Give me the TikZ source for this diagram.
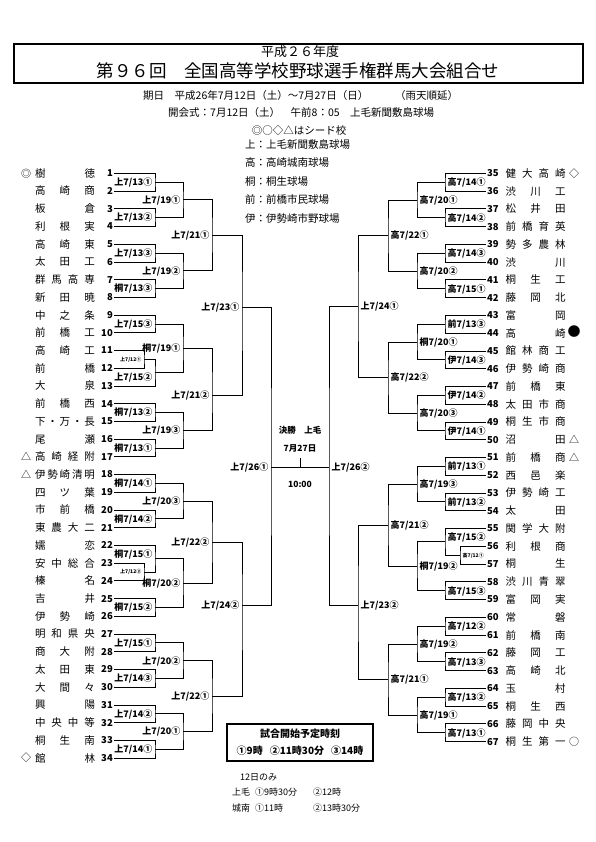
\documentclass[tikz,border=0pt]{standalone}
\usepackage{fontspec}
\setmainfont{Noto Sans CJK JP}
\usetikzlibrary{positioning}

% spread the characters of a school name over a fixed width
\def\spreadfirst#1{#1\spreadrest}
\def\spreadrest#1{\ifx\relax#1\else\hfill#1\expandafter\spreadrest\fi}
\newcommand{\teamname}[1]{\makebox[60pt][s]{\expandafter\spreadfirst#1\relax}}

% bracket: [label opts]{top}{bottom}{x}{pos}{name}{label}
\newcommand{\bL}[7][]{%
  \path (#2) -- (#3) coordinate[pos=#5] (#6m);
  \coordinate (#6) at (#6m -| #4,0);
  \draw[bline] (#2) -| (#6) |- (#3);
  \node[lab, anchor=east, #1] (#6l) at ([xshift=-2.5pt]#6) {#7};}
\newcommand{\bR}[7][]{%
  \path (#2) -- (#3) coordinate[pos=#5] (#6m);
  \coordinate (#6) at (#6m -| #4,0);
  \draw[bline] (#2) -| (#6) |- (#3);
  \node[lab, anchor=west, #1] (#6l) at ([xshift=2.5pt]#6) {#7};}

\begin{document}
\begin{tikzpicture}[x=1pt, y=-1pt,
    bline/.style={line width=.8pt, black},
    lab/.style={font=\bfseries\fontsize{9}{10}\selectfont, inner sep=0pt, text height=7.9pt, text depth=1.1pt},
    smalllab/.style={font=\bfseries\fontsize{5}{5}\selectfont, text height=4.4pt, text depth=.6pt},
    team/.style={font=\fontsize{10.5}{11}\selectfont, inner sep=0pt, text height=9.2pt, text depth=1.3pt},
    num/.style={font=\bfseries\fontsize{9.5}{10}\selectfont, inner sep=1pt, text height=6.9pt, text depth=0pt},
    seed/.style={font=\fontsize{10}{11}\selectfont, inner sep=0pt, text height=8.8pt, text depth=1.2pt},
    info/.style={font=\fontsize{10.5}{11}\selectfont, inner sep=0pt},
    boxtxt/.style={font=\bfseries\fontsize{10}{11}\selectfont, inner sep=0pt},
    note/.style={font=\fontsize{9}{10}\selectfont, inner sep=0pt},
    finlab/.style={font=\bfseries\fontsize{8.5}{9}\selectfont, inner sep=0pt}]
  \path[use as bounding box, fill=white] (0,0) rectangle (595,842);

  % header
  \node[draw, line width=1.6pt, minimum width=569pt, minimum height=39pt, inner sep=0pt] (titlebox) at (298.5,63.5) {};
  \node[font=\fontsize{13}{13}\selectfont, inner sep=0pt] (year) at (300,52) {平成２６年度};
  \node[font=\fontsize{17.5}{18}\selectfont, inner sep=0pt] (title) at (298,71) {第９６回　全国高等学校野球選手権群馬大会組合せ};
  \node[info, anchor=west] (date) at (143,96) {期日　平成26年7月12日（土）～7月27日（日）};
  \node[info, anchor=west] (rain) at (395,96) {（雨天順延）};
  \node[info, anchor=west] (opening) at (168,113) {開会式：7月12日（土）　午前8：05　上毛新聞敷島球場};
  \node[info] (seeds) at (299,131) {◎○◇△はシード校};
  \foreach \k/\v [count=\i] in {上/上毛新聞敷島球場, 高/高崎城南球場, 桐/桐生球場, 前/前橋市民球場, 伊/伊勢崎市野球場}
    \node[info, anchor=west] (park\i) at (245,126+18.5*\i) {\k：\v};

  % left teams
  \foreach \n/\sd/\nm in {1/◎/樹徳, 2//高崎商, 3//板倉, 4//利根実, 5//高崎東, 6//太田工, 7//群馬高専, 8//新田暁,
      9//中之条, 10//前橋工, 11//高崎工, 12//前橋, 13//大泉, 14//前橋西, 15//下・万・長, 16//尾瀬, 17/△/高崎経附,
      18/△/伊勢崎清明, 19//四ツ葉, 20//市前橋, 21//東農大二, 22//嬬恋, 23//安中総合, 24//榛名, 25//吉井, 26//伊勢崎,
      27//明和県央, 28//商大附, 29//太田東, 30//大間々, 31//興陽, 32//中央中等, 33//桐生南, 34/◇/館林} {
    \pgfmathsetmacro\yy{173.3+(\n-1)*17.72}
    \node[num, anchor=east] (t\n) at (114,\yy) {\n};
    \node[team] (n\n) at (65,\yy) {\teamname{\nm}};
    \node[seed] (s\n) at (26,\yy) {\sd};
  }

  % right teams
  \foreach \n/\sd/\nm in {35/◇/健大高崎, 36//渋川工, 37//松井田, 38//前橋育英, 39//勢多農林, 40//渋川, 41//桐生工, 42//藤岡北,
      43//富岡, 44/{\fontsize{13}{13}\selectfont ●}/高崎, 45//館林商工, 46//伊勢崎商, 47//前橋東, 48//太田市商, 49//桐生市商, 50/△/沼田,
      51/△/前橋商, 52//西邑楽, 53//伊勢崎工, 54//太田, 55//関学大附, 56//利根商, 57//桐生, 58//渋川青翠, 59//富岡実,
      60//常磐, 61//前橋南, 62//藤岡工, 63//高崎北, 64//玉村, 65//桐生西, 66//藤岡中央, 67/○/桐生第一} {
    \pgfmathsetmacro\yy{173.3+(\n-35)*17.76}
    \node[num, anchor=west] (t\n) at (486,\yy) {\n};
    \node[team] (n\n) at (535.5,\yy) {\teamname{\nm}};
    \node[seed] (s\n) at (574,\yy) {\sd};
  }

  % left bracket
  \bL{t1.east}{t2.east}{155}{.5}{m1x2}{上7/13①}
  \bL{t3.east}{t4.east}{155}{.5}{m3x4}{上7/13②}
  \bL{m1x2}{m3x4}{183}{.5}{m1x4}{上7/19①}
  \bL{t5.east}{t6.east}{155}{.5}{m5x6}{上7/13③}
  \bL{t7.east}{t8.east}{155}{.5}{m7x8}{桐7/13③}
  \bL{m5x6}{m7x8}{183}{.5}{m5x8}{上7/19②}
  \bL{m1x4}{m5x8}{212}{.5}{m1x8}{上7/21①}
  \bL{t9.east}{t10.east}{155}{.5}{m9x10}{上7/15③}
  \bL[smalllab]{t11.east}{t12.east}{144}{.5}{m11x12}{上7/12①}
  \bL[yshift=-4.6pt]{m11x12}{t13.east}{155}{.5}{m11x13}{上7/15②}
  \bL{m9x10}{m11x13}{183}{.5}{m9x13}{桐7/19①}
  \bL{t14.east}{t15.east}{155}{.5}{m14x15}{桐7/13②}
  \bL{t16.east}{t17.east}{155}{.5}{m16x17}{桐7/13①}
  \bL{m14x15}{m16x17}{183}{.5}{m14x17}{上7/19③}
  \bL{m9x13}{m14x17}{212}{.576}{m9x17}{上7/21②}
  \bL{m1x8}{m9x17}{242}{.448}{m1x17}{上7/23①}
  \bL{t18.east}{t19.east}{155}{.5}{m18x19}{桐7/14①}
  \bL{t20.east}{t21.east}{155}{.5}{m20x21}{桐7/14②}
  \bL{m18x19}{m20x21}{183}{.5}{m18x21}{上7/20③}
  \bL[smalllab]{t23.east}{t24.east}{144}{.5}{m23x24}{上7/12②}
  \bL[yshift=4.4pt]{t22.east}{m23x24}{155}{.5}{m22x24}{桐7/15①}
  \bL{t25.east}{t26.east}{155}{.5}{m25x26}{桐7/15②}
  \bL{m22x24}{m25x26}{183}{.5}{m22x26}{桐7/20②}
  \bL{m18x21}{m22x26}{212}{.5}{m18x26}{上7/22②}
  \bL{t27.east}{t28.east}{155}{.5}{m27x28}{上7/15①}
  \bL{t29.east}{t30.east}{155}{.5}{m29x30}{上7/14③}
  \bL{m27x28}{m29x30}{183}{.5}{m27x30}{上7/20②}
  \bL{t31.east}{t32.east}{155}{.5}{m31x32}{上7/14②}
  \bL{t33.east}{t34.east}{155}{.5}{m33x34}{上7/14①}
  \bL{m31x32}{m33x34}{183}{.5}{m31x34}{上7/20①}
  \bL{m27x30}{m31x34}{212}{.5}{m27x34}{上7/22①}
  \bL{m18x26}{m27x34}{242}{.409}{m18x34}{上7/24②}
  \bL{m1x17}{m18x34}{271}{.537}{m1x34}{上7/26①}

  % right bracket
  \bR{t35.west}{t36.west}{445}{.5}{m35x36}{高7/14①}
  \bR{t37.west}{t38.west}{445}{.5}{m37x38}{高7/14②}
  \bR{m35x36}{m37x38}{417}{.5}{m35x38}{高7/20①}
  \bR{t39.west}{t40.west}{445}{.5}{m39x40}{高7/14③}
  \bR{t41.west}{t42.west}{445}{.5}{m41x42}{高7/15①}
  \bR{m39x40}{m41x42}{417}{.5}{m39x42}{高7/20②}
  \bR{m35x38}{m39x42}{388}{.5}{m35x42}{高7/22①}
  \bR{t43.west}{t44.west}{445}{.5}{m43x44}{前7/13③}
  \bR{t45.west}{t46.west}{445}{.5}{m45x46}{伊7/14③}
  \bR{m43x44}{m45x46}{417}{.5}{m43x46}{桐7/20①}
  \bR{t47.west}{t48.west}{445}{.5}{m47x48}{伊7/14②}
  \bR{t49.west}{t50.west}{445}{.5}{m49x50}{伊7/14①}
  \bR{m47x48}{m49x50}{417}{.5}{m47x50}{高7/20③}
  \bR{m43x46}{m47x50}{388}{.5}{m43x50}{高7/22②}
  \bR{m35x42}{m43x50}{358}{.5}{m35x50}{上7/24①}
  \bR{t51.west}{t52.west}{445}{.5}{m51x52}{前7/13①}
  \bR{t53.west}{t54.west}{445}{.5}{m53x54}{前7/13②}
  \bR{m51x52}{m53x54}{417}{.5}{m51x54}{高7/19③}
  \bR[smalllab]{t56.west}{t57.west}{460}{.5}{m56x57}{高7/12①}
  \bR[yshift=4.4pt]{t55.west}{m56x57}{445}{.5}{m55x57}{高7/15②}
  \bR{t58.west}{t59.west}{445}{.5}{m58x59}{高7/15③}
  \bR{m55x57}{m58x59}{417}{.5}{m55x59}{桐7/19②}
  \bR{m51x54}{m55x59}{388}{.5}{m51x59}{高7/21②}
  \bR{t60.west}{t61.west}{445}{.5}{m60x61}{高7/12②}
  \bR{t62.west}{t63.west}{445}{.5}{m62x63}{高7/13③}
  \bR{m60x61}{m62x63}{417}{.5}{m60x63}{高7/19②}
  \bR{t64.west}{t65.west}{445}{.5}{m64x65}{高7/13②}
  \bR{t66.west}{t67.west}{445}{.5}{m66x67}{高7/13①}
  \bR{m64x65}{m66x67}{417}{.5}{m64x67}{高7/19①}
  \bR{m60x63}{m64x67}{388}{.5}{m60x67}{高7/21①}
  \bR{m51x59}{m60x67}{358}{.517}{m51x67}{上7/23②}
  \bR{m35x50}{m51x67}{329}{.538}{m35x67}{上7/26②}

  % final
  \draw[bline] (m1x34) -- (m1x34 -| m35x67);
  \coordinate (fin) at (m1x34 -| 300,0);
  \coordinate (fintop) at ([yshift=9pt]fin);
  \draw[bline] (fin) -- (fintop);
  \node[finlab] (finname) at (300,430.5) {決勝　上毛};
  \node[finlab] (findate) at (300,448.5) {7月27日};
  \node[finlab] (fintime) at (300,484.5) {10:00};

  % start times
  \node[draw, line width=1.8pt, minimum width=146pt, minimum height=37pt, inner sep=0pt] (timebox) at (300,742.5) {};
  \node[boxtxt] (timehead) at (300,733.5) {試合開始予定時刻};
  \node[boxtxt] (timelist) at (300,751) {①9時\hspace{7pt}②11時30分\hspace{7pt}③14時};
  \node[note, anchor=west] (only12) at (240,777) {12日のみ};
  \node[note, anchor=west] (jomo1) at (232,792.5) {上毛\hspace{5pt}①9時30分};
  \node[note, anchor=west] (jomo2) at (313,792.5) {②12時};
  \node[note, anchor=west] (jonan1) at (232,808.5) {城南\hspace{5pt}①11時};
  \node[note, anchor=west] (jonan2) at (313,808.5) {②13時30分};
\end{tikzpicture}
\end{document}
